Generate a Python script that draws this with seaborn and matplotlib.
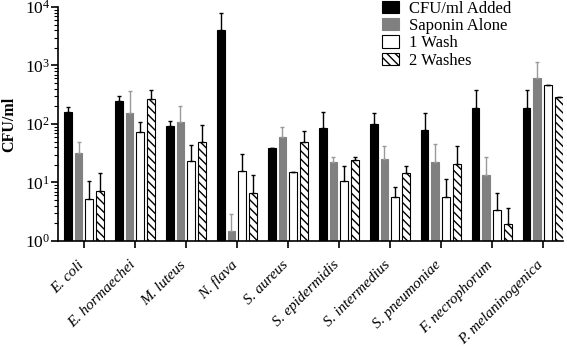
import numpy as np
import pandas as pd
import matplotlib
matplotlib.use("Agg")
import matplotlib.pyplot as plt
import matplotlib.transforms as mtransforms
import seaborn as sns
from matplotlib.ticker import LogLocator, LogFormatterMathtext, NullFormatter

species = ["E. coli", "E. hormaechei", "M. luteus", "N. flava", "S. aureus",
           "S. epidermidis", "S. intermedius", "S. pneumoniae", "F. necrophorum",
           "P. melaninogenica"]
conditions = ["CFU/ml Added", "Saponin Alone", "1 Wash", "2 Washes"]

added = [160, 250, 94, 4050, 39, 84, 99, 79, 190, 190]
added_top = [195, 305, 114, 7800, 39, 159, 152, 152, 380, 380]
saponin = [32, 155, 106, 1.5, 59, 22, 25, 22, 13.4, 605]
saponin_top = [49, 370, 203, 2.9, 89, 27.6, 42, 45, 27, 1160]
wash1 = [5.2, 73, 23, 16, 15.3, 10.6, 5.6, 5.6, 3.35, 465]
wash1_top = [10.6, 109, 44, 31, 15.3, 19.4, 8.5, 11.3, 6.5, 465]
wash2 = [7.1, 270, 49, 6.7, 49, 24, 14.4, 20.7, 1.93, 286]
wash2_top = [14.5, 380, 97, 13.3, 76, 27, 19.4, 42, 3.7, 286]

values = [added, saponin, wash1, wash2]
tops = [added_top, saponin_top, wash1_top, wash2_top]

df = pd.DataFrame({
    "species": np.repeat([species], 4, axis=0).ravel(),
    "condition": np.repeat(conditions, len(species)),
    "value": np.concatenate(values),
})

plt.rcParams["font.family"] = ["Liberation Serif", "DejaVu Serif"]
plt.rcParams["mathtext.fontset"] = "custom"
plt.rcParams["mathtext.rm"] = "Liberation Serif"
plt.rcParams["hatch.linewidth"] = 1.0

fig = plt.figure(figsize=(5.67, 3.48), dpi=100)
ax = fig.add_axes([0.103, 0.3075, 0.89, 0.6725])

fills = ["black", "#808080", "white", "white"]
edges = ["black", "#808080", "black", "black"]
sns.barplot(data=df, x="species", y="value", hue="condition",
            order=species, hue_order=conditions, palette=fills,
            errorbar=None, width=0.84, gap=0.28, edgecolor="black",
            linewidth=0.8, ax=ax, legend=True)
ax.set_yscale("log")

bar_containers = list(ax.containers)
err_colors = ["black", "#9a9a9a", "black", "black"]
for i, cont in enumerate(bar_containers):
    xs = [p.get_x() + p.get_width() / 2 for p in cont.patches]
    ys = np.array(values[i], dtype=float)
    up = np.array(tops[i], dtype=float) - ys
    ax.errorbar(xs, ys, yerr=[np.zeros_like(up), up], fmt="none",
                ecolor=err_colors[i], elinewidth=1.0, capsize=1.5,
                capthick=1.0, zorder=1)
    for p in cont.patches:
        p.set_edgecolor(edges[i])
        if i == 3:
            p.set_hatch("\\\\\\\\")

ax.set_ylim(1, 1e4)
ax.set_xlim(-0.5, 9.4)
ax.yaxis.set_major_locator(LogLocator(base=10, numticks=10))
ax.yaxis.set_major_formatter(LogFormatterMathtext())
ax.yaxis.set_minor_locator(LogLocator(base=10, subs=np.arange(2, 10), numticks=20))
ax.yaxis.set_minor_formatter(NullFormatter())

for s in ["top", "right"]:
    ax.spines[s].set_visible(False)
for s in ["left", "bottom"]:
    ax.spines[s].set_linewidth(1.2)
    ax.spines[s].set_color("black")

ax.tick_params(axis="y", which="major", length=5, width=1.2, labelsize=12.5, pad=1)
ax.tick_params(axis="y", which="minor", length=3, width=0.8)
ax.tick_params(axis="x", which="major", length=5, width=1.2, labelsize=11, pad=7.5)

ax.set_xlabel("")
ax.set_ylabel("CFU/ml", fontsize=11.5, fontweight="bold")
ax.yaxis.set_label_coords(-0.081, 0.5)

shift = mtransforms.ScaledTranslation(-0.06, 0, fig.dpi_scale_trans)
for lab in ax.get_xticklabels():
    lab.set_rotation(45)
    lab.set_ha("right")
    lab.set_rotation_mode("anchor")
    lab.set_fontstyle("italic")
    lab.set_transform(lab.get_transform() + shift)

handles, labels = ax.get_legend_handles_labels()
leg = ax.legend(handles, labels, loc="upper left", bbox_to_anchor=(0.642, 1.027),
                frameon=False, fontsize=12, handlelength=1.0, handleheight=0.75,
                labelspacing=0.08, handletextpad=0.6, borderaxespad=0,
                borderpad=0)
for i, h in enumerate(leg.legend_handles):
    h.set_edgecolor(edges[i])
leg.legend_handles[3].set_hatch("\\\\\\\\")

fig.savefig("out.png", dpi=100)
